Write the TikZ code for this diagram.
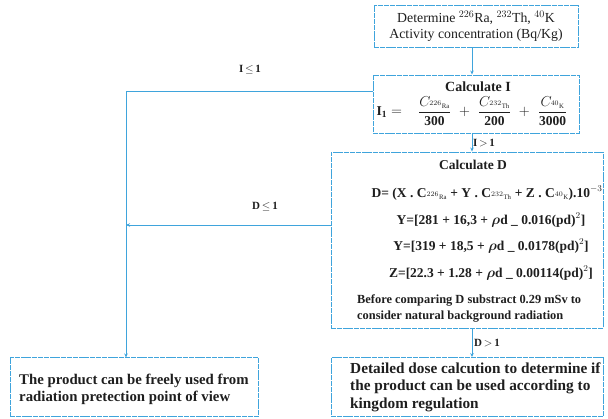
\documentclass[tikz,border=0pt]{standalone}
\usepackage{fontspec}
\usepackage{amsmath}
\setmainfont{Liberation Serif}
\usetikzlibrary{arrows.meta}
\definecolor{ln}{HTML}{3FA4DC}
\definecolor{tx}{HTML}{1E1E1E}
\begin{document}
\begin{tikzpicture}[x=1pt,y=-1pt,
  box/.style={draw=ln, line width=0.9pt, dash pattern=on 5pt off 0.8pt, inner sep=0pt, rectangle},
  conn/.style={draw=ln, line width=1pt},
  arr/.style={conn, -{Stealth[length=4pt,width=3.5pt]}},
  txt/.style={font=\bfseries\fontsize{13.5}{16}\selectfont, text=tx, inner sep=0pt, align=center},
  btxt/.style={font=\bfseries\fontsize{14.8}{17}\selectfont, text=tx, inner sep=0pt, anchor=west},
  rtxt/.style={font=\fontsize{13.8}{16}\selectfont, text=tx, inner sep=0pt, align=center},
  stxt/.style={font=\bfseries\fontsize{12.4}{14}\selectfont, text=tx, inner sep=0pt, anchor=west},
  lab/.style={font=\bfseries\fontsize{11}{13}\selectfont, text=tx, inner sep=0pt}]
\useasboundingbox (0,0) rectangle (608,418);

% box 1 text
\node[rtxt] (t1a) at (476,18) {Determine $^{226}$Ra, $^{232}$Th, $^{40}$K};
\node[rtxt] (t1b) at (476,35) {Activity concentration (Bq/Kg)};

% box 2 text
\node[txt, font=\bfseries\fontsize{14}{16}\selectfont] (t2a) at (478,87) {Calculate I};
\node[txt] (t2b) at (472,111) {$\mathbf{I_1} =\;\;\; \dfrac{C_{\scriptscriptstyle ^{226}\mathrm{Ra}}}{\mathbf{300}} \;\;\mathbf{+}\;\; \dfrac{C_{\scriptscriptstyle ^{232}\mathrm{Th}}}{\mathbf{200}} \;\;\mathbf{+}\;\; \dfrac{C_{\scriptscriptstyle ^{40}\mathrm{K}}}{\mathbf{3000}}$};

% box 3 text
\node[txt] (t3a) at (473,165) {Calculate D};
\node[txt] (t3b) at (487,193) {D= (X . C$_{\scriptscriptstyle ^{226}\mathrm{Ra}}$ + Y . C$_{\scriptscriptstyle ^{232}\mathrm{Th}}$ + Z . C$_{\scriptscriptstyle ^{40}\mathrm{K}}$).10$^{-3}$};
\node[txt] (t3c) at (491,220) {Y=[281 + 16,3 + $\boldsymbol{\rho}$d \_ 0.016(pd)$^2$]};
\node[txt] (t3d) at (491,246) {Y=[319 + 18,5 + $\boldsymbol{\rho}$d \_ 0.0178(pd)$^2$]};
\node[txt] (t3e) at (491,273) {Z=[22.3 + 1.28 + $\boldsymbol{\rho}$d \_ 0.00114(pd)$^2$]};
\node[stxt] (t3f) at (357,300) {Before comparing D substract 0.29 mSv to};
\node[stxt] (t3g) at (357,317) {consider natural background radiation};

% box 4 text
\node[btxt, font=\bfseries\fontsize{15.3}{18}\selectfont] (t4a) at (350,368) {Detailed dose calcution to determine if};
\node[btxt, font=\bfseries\fontsize{15.3}{18}\selectfont] (t4b) at (350,387) {the product can be used according to};
\node[btxt, font=\bfseries\fontsize{15.3}{18}\selectfont] (t4c) at (350,405) {kingdom regulation};

% left box text
\node[btxt] (t5a) at (19,381) {The product can be freely used from};
\node[btxt] (t5b) at (19,398) {radiation pretection point of view};

% boxes
\node[box, minimum width=204pt, minimum height=42pt] (b1) at (476,26) {};
\node[box, minimum width=206pt, minimum height=58pt] (b2) at (476,104) {};
\node[box, minimum width=272pt, minimum height=176pt] (b3) at (467,240) {};
\node[box, minimum width=272pt, minimum height=59pt] (b4) at (467,387) {};
\node[box, minimum width=248pt, minimum height=59pt] (lb) at (134,387) {};

% connectors
\coordinate (k1) at (126,91);
\coordinate (k2) at (126,225);
\coordinate (lt) at (126,357.5);
\draw[arr] (b1.south -| 472,0) -- (b2.north -| 472,0);
\draw[arr] (b2.south -| 472,0) -- (b3.north -| 472,0);
\draw[arr] (b3.south -| 472,0) -- (b4.north -| 472,0);
\draw[conn] (k1 -| b2.west) -- (k1);
\draw[arr] (k1) -- (lt);
\draw[arr] (k2 -| b3.west) -- (k2);

% labels
\node[lab] (l1) at (250,70) {I\,$\leq$\,1};
\node[lab] (l2) at (265,207) {D\,$\leq$\,1};
\node[lab] (l3) at (484,143) {I\,$>$\,1};
\node[lab] (l4) at (487,343) {D\,$>$\,1};
\end{tikzpicture}
\end{document}
